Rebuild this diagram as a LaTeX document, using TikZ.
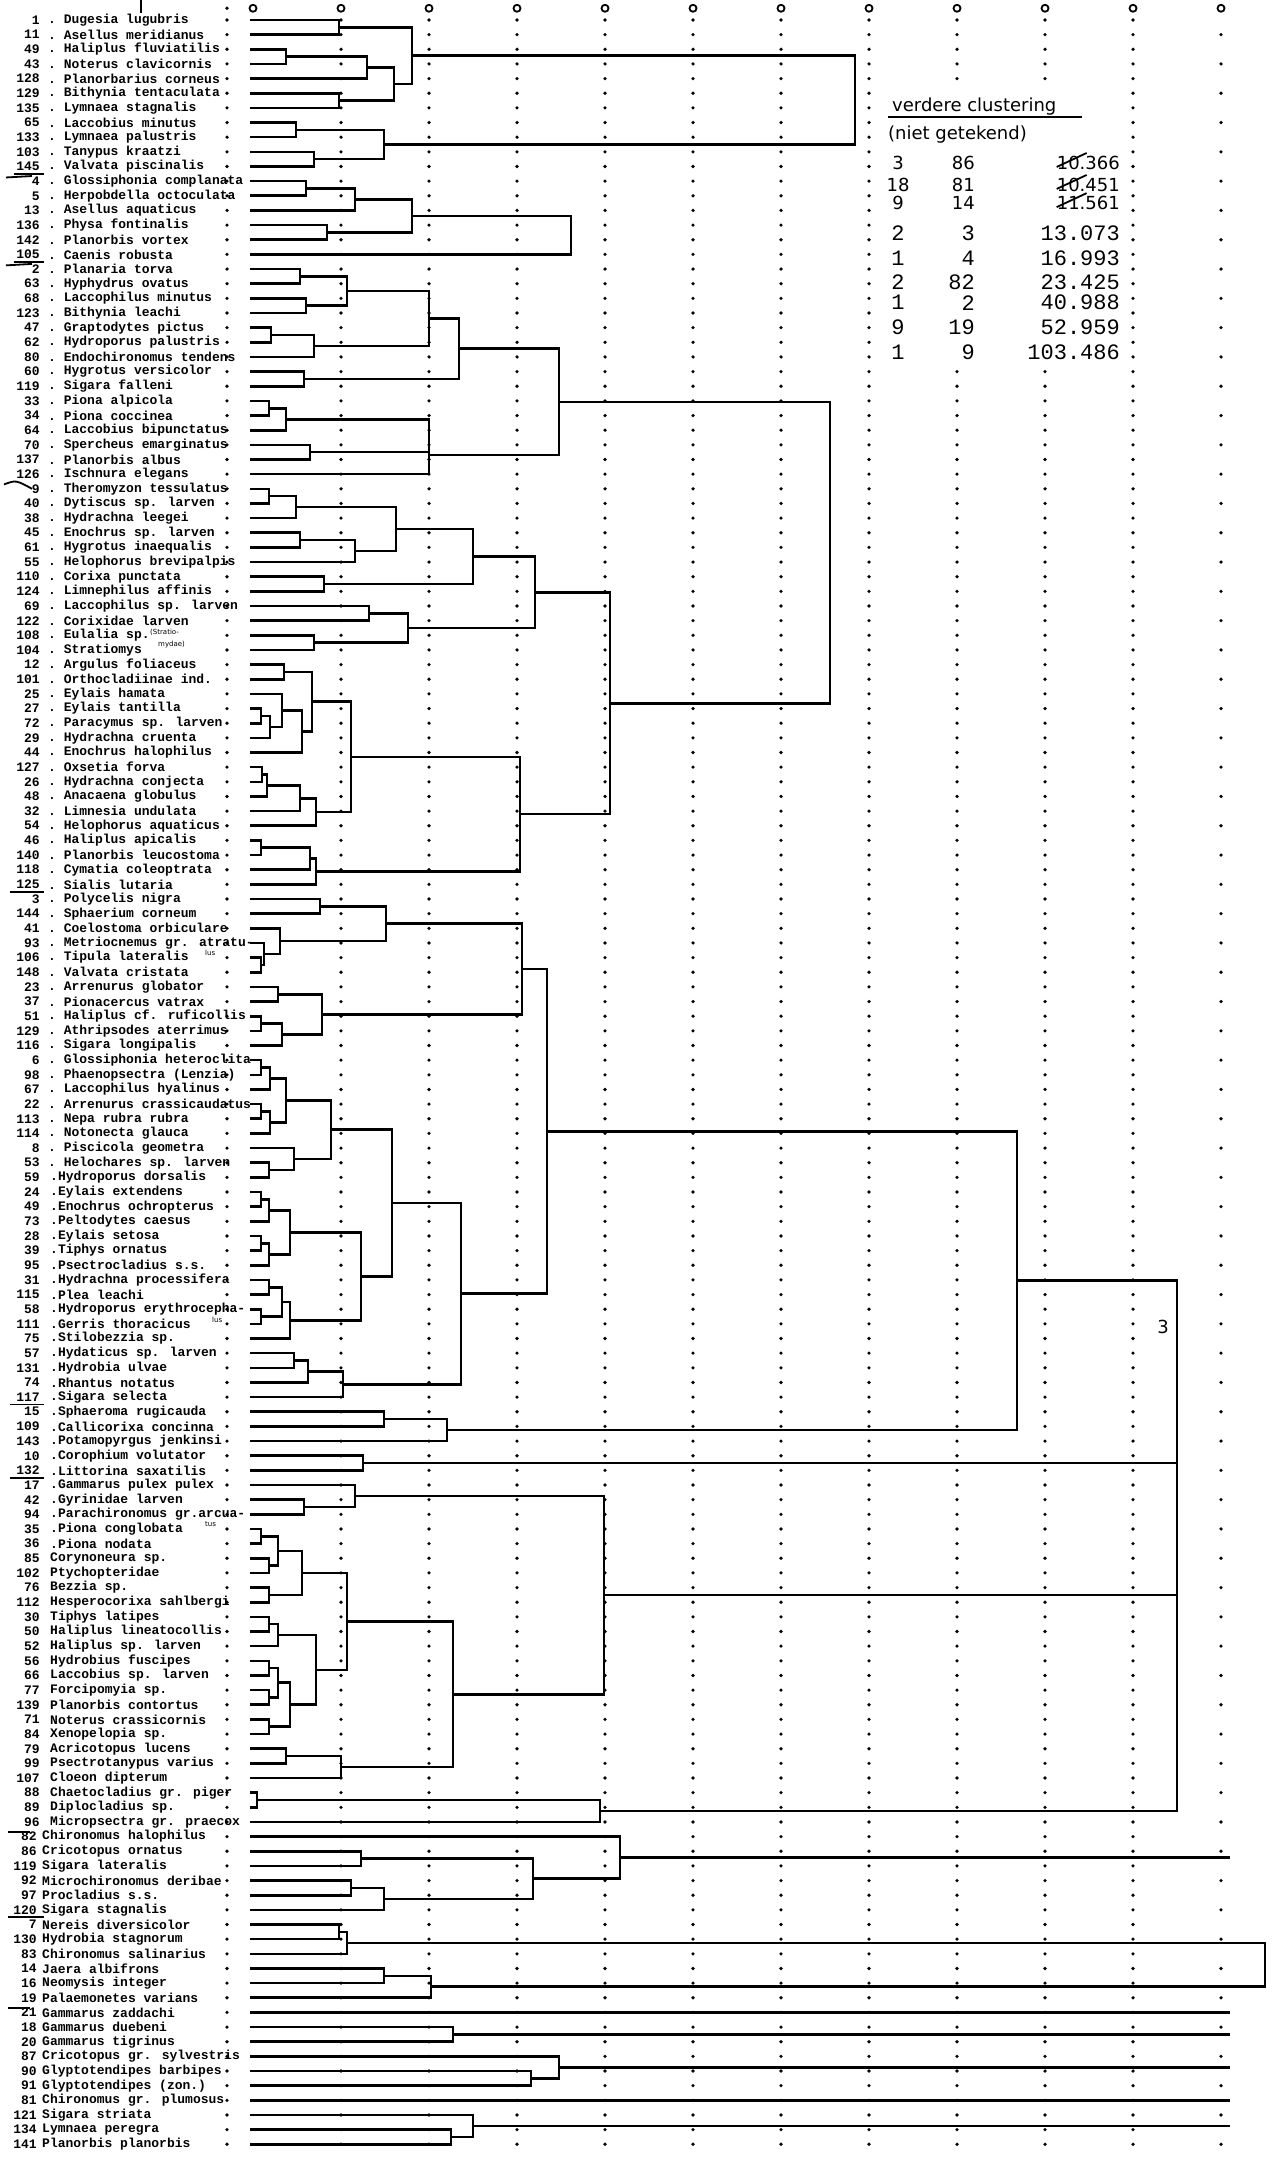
\documentclass[tikz,border=0pt]{standalone}
\usepackage{fontspec}
\newfontfamily\printfont{Liberation Mono}
\newfontfamily\handfont{DejaVu Sans}
\usetikzlibrary{calc}
% one step of the dendrogram: name, level, the two joined groups
\newcommand{\mrg}[4]{%
  \path let \p1=($(#3)!0.5!(#4)$) in coordinate (#1) at (#2pt,\y1);
  \draw[dline] (#3) -| (#1) |- (#4);}

\begin{document}
\begin{tikzpicture}[x=1pt,y=-14.65pt,
  dline/.style={line width=2.6pt},
  num/.style={anchor=east,inner sep=0pt,font=\printfont\bfseries\fontsize{13}{13}\selectfont},
  lab/.style={anchor=west,inner sep=0pt,font=\printfont\bfseries\fontsize{13}{13}\selectfont},
  tab/.style={anchor=east,inner sep=0pt,font=\printfont\fontsize{22}{22}\selectfont},
  hand/.style={inner sep=0pt,font=\handfont\fontsize{18}{18}\selectfont},
  small/.style={inner sep=0pt,font=\handfont\fontsize{7}{7}\selectfont},
  pen/.style={line width=1.8pt}]
\useasboundingbox (0,-1.365) rectangle (1281,145.87);

% dotted scale columns
\foreach \c in {341,429,...,1133}{
  \foreach \r in {0,...,145}{
    \pgfmathtruncatemacro\keep{(\c>900 && \c<1100 && \r>4 && \r<24) ? 0 : 1}
    \ifnum\keep=1 \fill (\c,\r) circle (1.8pt);\fi}}
\foreach \r in {1,3,...,145} \fill (1221,\r) circle (1.8pt);
\foreach \c in {253,341,...,1221} \draw[line width=1.8pt] (\c,-0.8) circle (3.5pt);
\fill (227,-0.8) circle (1.8pt);
\draw[line width=1.5pt] (141,-1.365) -- (141,-0.45);

% species
\foreach \n/\s [count=\i from 0] in {
 1/Dugesia lugubris, 11/Asellus meridianus, 49/Haliplus fluviatilis,
 43/Noterus clavicornis, 128/Planorbarius corneus, 129/Bithynia tentaculata,
 135/Lymnaea stagnalis, 65/Laccobius minutus, 133/Lymnaea palustris,
 103/Tanypus kraatzi, 145/Valvata piscinalis, 4/Glossiphonia complanata,
 5/Herpobdella octoculata, 13/Asellus aquaticus, 136/Physa fontinalis,
 142/Planorbis vortex, 105/Caenis robusta, 2/Planaria torva,
 63/Hyphydrus ovatus, 68/Laccophilus minutus, 123/Bithynia leachi,
 47/Graptodytes pictus, 62/Hydroporus palustris, 80/Endochironomus tendens,
 60/Hygrotus versicolor, 119/Sigara falleni, 33/Piona alpicola,
 34/Piona coccinea, 64/Laccobius bipunctatus, 70/Spercheus emarginatus,
 137/Planorbis albus, 126/Ischnura elegans, 9/Theromyzon tessulatus,
 40/Dytiscus sp. larven, 38/Hydrachna leegei, 45/Enochrus sp. larven,
 61/Hygrotus inaequalis, 55/Helophorus brevipalpis, 110/Corixa punctata,
 124/Limnephilus affinis, 69/Laccophilus sp. larven, 122/Corixidae larven,
 108/Eulalia sp., 104/Stratiomys, 12/Argulus foliaceus,
 101/Orthocladiinae ind., 25/Eylais hamata, 27/Eylais tantilla,
 72/Paracymus sp. larven, 29/Hydrachna cruenta, 44/Enochrus halophilus,
 127/Oxsetia forva, 26/Hydrachna conjecta, 48/Anacaena globulus,
 32/Limnesia undulata, 54/Helophorus aquaticus, 46/Haliplus apicalis,
 140/Planorbis leucostoma, 118/Cymatia coleoptrata, 125/Sialis lutaria,
 3/Polycelis nigra, 144/Sphaerium corneum, 41/Coelostoma orbiculare,
 93/Metriocnemus gr. atratu-, 106/Tipula lateralis, 148/Valvata cristata,
 23/Arrenurus globator, 37/Pionacercus vatrax, 51/Haliplus cf. ruficollis,
 129/Athripsodes aterrimus, 116/Sigara longipalis, 6/Glossiphonia heteroclita,
 98/Phaenopsectra (Lenzia), 67/Laccophilus hyalinus, 22/Arrenurus crassicaudatus,
 113/Nepa rubra rubra, 114/Notonecta glauca, 8/Piscicola geometra,
 53/Helochares sp. larven, 59/Hydroporus dorsalis, 24/Eylais extendens,
 49/Enochrus ochropterus, 73/Peltodytes caesus, 28/Eylais setosa,
 39/Tiphys ornatus, 95/Psectrocladius s.s., 31/Hydrachna processifera,
 115/Plea leachi, 58/Hydroporus erythrocepha-, 111/Gerris thoracicus,
 75/Stilobezzia sp., 57/Hydaticus sp. larven, 131/Hydrobia ulvae,
 74/Rhantus notatus, 117/Sigara selecta, 15/Sphaeroma rugicauda,
 109/Callicorixa concinna, 143/Potamopyrgus jenkinsi, 10/Corophium volutator,
 132/Littorina saxatilis, 17/Gammarus pulex pulex, 42/Gyrinidae larven,
 94/Parachironomus gr.arcua-, 35/Piona conglobata, 36/Piona nodata,
 85/Corynoneura sp., 102/Ptychopteridae, 76/Bezzia sp.,
 112/Hesperocorixa sahlbergi, 30/Tiphys latipes, 50/Haliplus lineatocollis,
 52/Haliplus sp. larven, 56/Hydrobius fuscipes, 66/Laccobius sp. larven,
 77/Forcipomyia sp., 139/Planorbis contortus, 71/Noterus crassicornis,
 84/Xenopelopia sp., 79/Acricotopus lucens, 99/Psectrotanypus varius,
 107/Cloeon dipterum, 88/Chaetocladius gr. piger, 89/Diplocladius sp.,
 96/Micropsectra gr. praecox, 82/Chironomus halophilus, 86/Cricotopus ornatus,
 119/Sigara lateralis, 92/Microchironomus deribae, 97/Procladius s.s.,
 120/Sigara stagnalis, 7/Nereis diversicolor, 130/Hydrobia stagnorum,
 83/Chironomus salinarius, 14/Jaera albifrons, 16/Neomysis integer,
 19/Palaemonetes varians, 21/Gammarus zaddachi, 18/Gammarus duebeni,
 20/Gammarus tigrinus, 87/Cricotopus gr. sylvestris, 90/Glyptotendipes barbipes,
 91/Glyptotendipes (zon.), 81/Chironomus gr. plumosus, 121/Sigara striata,
 134/Lymnaea peregra, 141/Planorbis planorbis}{
  \coordinate (l\i) at (250,\i);
  \ifnum\i<124 \node[num] (n\i) at (40,\i) {\n};
  \else \node[num] (n\i) at (37,\i) {\n};\fi
  \ifnum\i<79 \node[lab] (s\i) at (48,\i) {.\ \s};
  \else\ifnum\i<105 \node[lab] (s\i) at (50,\i) {.\s};
  \else\ifnum\i<124 \node[lab] (s\i) at (50,\i) {\s};
  \else \node[lab] (s\i) at (42,\i) {\s};\fi\fi\fi
  \fill (227,\i) circle (1.8pt);
}
\node[small,anchor=west] (st1) at (150,41.8) {(Stratio-};
\node[small,anchor=west] (st2) at (158,42.6) {mydae)};
\node[small,anchor=west] (lu1) at (205,63.7) {lus};
\node[small,anchor=west] (lu2) at (212,88.7) {lus};
\node[small,anchor=west] (tu1) at (205,102.7) {tus};

% marks in the margin
\draw[pen] (14,10.5) -- (44,10.5);
\draw[pen] (6,10.75) -- (32,10.65);
\draw[pen] (14,16.5) -- (44,16.5);
\draw[pen] (6,16.75) -- (32,16.65);
\draw[pen] (4,31.7) .. controls (16,31.4) .. (32,32);
\draw[pen] (10,59.5) -- (44,59.5);
\draw[pen] (10,94.5) -- (44,94.5);
\draw[pen] (10,99.5) -- (44,99.5);
\draw[pen] (8,123.7) -- (30,123.7);
\draw[pen] (8,129.5) -- (44,129.5);
\draw[pen] (8,135.7) -- (30,135.7);

% group 1
\mrg{a1}{339}{l0}{l1}
\mrg{a2}{286}{l2}{l3}
\mrg{a3}{367}{a2}{l4}
\mrg{a4}{339}{l5}{l6}
\mrg{a5}{394}{a3}{a4}
\mrg{a6}{412}{a1}{a5}
\mrg{a7}{296}{l7}{l8}
\mrg{a8}{314}{l9}{l10}
\mrg{a9}{384}{a7}{a8}
\mrg{a10}{855}{a6}{a9}
% group 4
\mrg{b1}{306}{l11}{l12}
\mrg{b2}{355}{b1}{l13}
\mrg{b3}{327}{l14}{l15}
\mrg{b4}{412}{b2}{b3}
\mrg{b5}{571}{b4}{l16}
% group 2
\mrg{c1}{300}{l17}{l18}
\mrg{c2}{306}{l19}{l20}
\mrg{c3}{347}{c1}{c2}
\mrg{c4}{271}{l21}{l22}
\mrg{c5}{314}{c4}{l23}
\mrg{c6}{429}{c3}{c5}
\mrg{c7}{304}{l24}{l25}
\mrg{c8}{459}{c6}{c7}
\mrg{c9}{269}{l26}{l27}
\mrg{c10}{286}{c9}{l28}
\mrg{c11}{310}{l29}{l30}
\mrg{c12}{429}{c10}{c11}
\mrg{c13}{429}{c12}{l31}
\mrg{c14}{559}{c8}{c13}
% group 9
\mrg{d1}{269}{l32}{l33}
\mrg{d2}{296}{d1}{l34}
\mrg{d3}{300}{l35}{l36}
\mrg{d4}{355}{d3}{l37}
\mrg{d5}{396}{d2}{d4}
\mrg{d6}{324}{l38}{l39}
\mrg{d7}{473}{d5}{d6}
\mrg{d8}{369}{l40}{l41}
\mrg{d9}{314}{l42}{l43}
\mrg{d10}{408}{d8}{d9}
\mrg{d11}{535}{d7}{d10}
\mrg{d12}{284}{l44}{l45}
\mrg{d13}{261}{l47}{l48}
\mrg{d14}{270}{d13}{l49}
\mrg{d15}{282}{l46}{d14}
\mrg{d16}{302}{d15}{l50}
\mrg{d17}{312}{d12}{d16}
\mrg{d18}{262}{l51}{l52}
\mrg{d19}{267}{d18}{l53}
\mrg{d20}{300}{d19}{l54}
\mrg{d21}{316}{d20}{l55}
\mrg{d22}{351}{d17}{d21}
\mrg{d23}{261}{l56}{l57}
\mrg{d24}{310}{d23}{l58}
\mrg{d25}{316}{d24}{l59}
\mrg{d26}{520}{d22}{d25}
\mrg{d27}{610}{d11}{d26}
\mrg{x1}{830}{c14}{d27}
% group 3
\mrg{e1}{320}{l60}{l61}
\mrg{e2}{261}{l64}{l65}
\mrg{e3}{264}{l63}{e2}
\mrg{e4}{280}{l62}{e3}
\mrg{e5}{386}{e1}{e4}
\mrg{e6}{278}{l66}{l67}
\mrg{e7}{261}{l68}{l69}
\mrg{e8}{282}{e7}{l70}
\mrg{e9}{322}{e6}{e8}
\mrg{e10}{522}{e5}{e9}
\mrg{e11}{261}{l71}{l72}
\mrg{e12}{270}{e11}{l73}
\mrg{e13}{261}{l74}{l75}
\mrg{e14}{270}{e13}{l76}
\mrg{e15}{286}{e12}{e14}
\mrg{e16}{269}{l78}{l79}
\mrg{e17}{294}{l77}{e16}
\mrg{e18}{331}{e15}{e17}
\mrg{e19}{261}{l80}{l81}
\mrg{e20}{269}{e19}{l82}
\mrg{e21}{261}{l83}{l84}
\mrg{e22}{269}{e21}{l85}
\mrg{e23}{290}{e20}{e22}
\mrg{e24}{269}{l86}{l87}
\mrg{e25}{261}{l88}{l89}
\mrg{e26}{282}{e24}{e25}
\mrg{e27}{290}{e26}{l90}
\mrg{e28}{361}{e23}{e27}
\mrg{e29}{392}{e18}{e28}
\mrg{e30}{294}{l91}{l92}
\mrg{e31}{308}{e30}{l93}
\mrg{e32}{343}{e31}{l94}
\mrg{e33}{461}{e29}{e32}
\mrg{e34}{547}{e10}{e33}
% group 15
\mrg{f1}{384}{l95}{l96}
\mrg{f2}{447}{f1}{l97}
\mrg{f3}{363}{l98}{l99}
% group 17
\mrg{g1}{304}{l101}{l102}
\mrg{g2}{355}{l100}{g1}
\mrg{g3}{261}{l103}{l104}
\mrg{g4}{269}{l105}{l106}
\mrg{g5}{278}{g3}{g4}
\mrg{g6}{269}{l107}{l108}
\mrg{g7}{302}{g5}{g6}
\mrg{g8}{269}{l109}{l110}
\mrg{g9}{278}{g8}{l111}
\mrg{g10}{269}{l112}{l113}
\mrg{g11}{269}{l114}{l115}
\mrg{g12}{278}{g10}{g11}
\mrg{g13}{269}{l116}{l117}
\mrg{g14}{290}{g12}{g13}
\mrg{g15}{316}{g9}{g14}
\mrg{g16}{347}{g7}{g15}
\mrg{g17}{286}{l118}{l119}
\mrg{g18}{341}{g17}{l120}
\mrg{g19}{453}{g16}{g18}
\mrg{g20}{604}{g2}{g19}
% groups 82 and 86
\mrg{h1}{257}{l121}{l122}
\mrg{h2}{600}{h1}{l123}
\mrg{h3}{361}{l125}{l126}
\mrg{h4}{351}{l127}{l128}
\mrg{h5}{384}{h4}{l129}
\mrg{h6}{533}{h3}{h5}
\mrg{h7}{620}{l124}{h6}
% upper right joins
\mrg{y1}{1017}{e34}{f2}
\mrg{y2}{1177}{y1}{f3}
\mrg{y3}{1177}{y2}{g20}
\mrg{y4}{1177}{y3}{h2}
% brackish groups
\mrg{k1}{339}{l130}{l131}
\mrg{k2}{347}{k1}{l132}
\mrg{k3}{384}{l133}{l134}
\mrg{k4}{431}{k3}{l135}
\mrg{k5}{453}{l137}{l138}
\mrg{k6}{531}{l140}{l141}
\mrg{k7}{559}{l139}{k6}
\mrg{k8}{451}{l144}{l145}
\mrg{k9}{473}{l143}{k8}
\mrg{k10}{1265}{k2}{k4}

% loose ends towards the right
\coordinate (rim) at (1230,0);
\foreach \g in {h7,l136,k5,k7,l142,k9}
  \draw[dline] (\g) -- (\g -| rim);
\node[hand,anchor=center] (m3) at (1163,89.2) {3};

% table of the further merges
\node[hand,anchor=west] (vc) at (892,5.9) {verdere clustering};
\draw[pen] (888,6.62) -- (1082,6.62);
\node[hand,anchor=west] (ng) at (888,7.85) {(niet getekend)};
\foreach \a/\b/\v/\y [count=\j] in {3/86/10.366/9.76, 18/81/10.451/11.26, 9/14/11.561/12.5}{
  \node[hand,anchor=center] (ha\j) at (898,\y) {\a};
  \node[hand,anchor=east] (hb\j) at (975,\y) {\b};
  \node[hand,anchor=east] (hc\j) at (1120,\y) {\v};
  \draw[pen] ($(hc\j.south west)+(0pt,3pt)$) -- ++(30pt,14pt);
}
\foreach \a/\b/\v/\y [count=\j] in {2/3/13.073/14.54, 1/4/16.993/16.25,
  2/82/23.425/17.9, 1/2/40.988/19.3, 9/19/52.959/21.0, 1/9/103.486/22.7}{
  \node[tab,anchor=center] (ta\j) at (898,\y) {\a};
  \node[tab] (tb\j) at (975,\y) {\b};
  \node[tab] (tc\j) at (1120,\y) {\v};
}
\end{tikzpicture}
\end{document}
